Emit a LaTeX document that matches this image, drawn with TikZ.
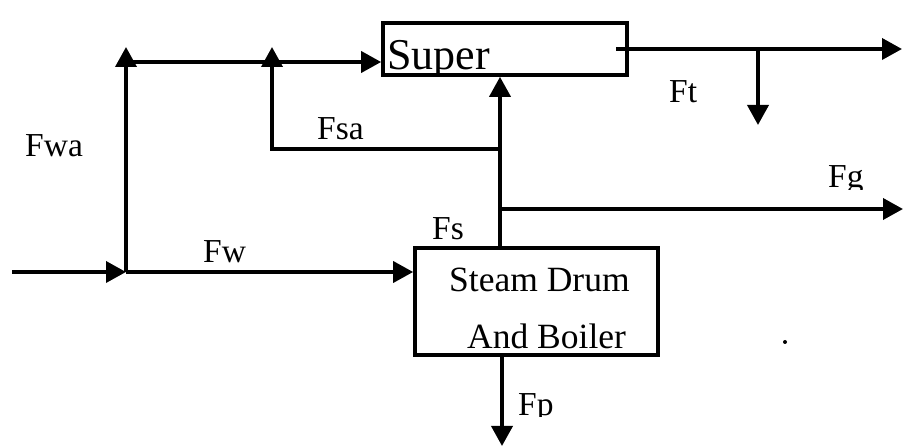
\documentclass[tikz,border=0pt]{standalone}
\usepackage{fontspec}
\setmainfont{Liberation Serif}
\usetikzlibrary{arrows.meta}
\begin{document}
\begin{tikzpicture}[x=1pt,y=-1pt,
 flow/.style={line width=3.7pt, -{Triangle[length=20pt,width=21pt]}},
 unit/.style={draw, line width=3.7pt, inner sep=0pt},
 lbl/.style={anchor=base west, inner sep=0pt, font=\fontsize{33.5}{38}\selectfont},
 boxtxt/.style={anchor=base west, inner sep=0pt, font=\fontsize{35.5}{40}\selectfont},
 bigtxt/.style={anchor=base west, inner sep=0pt, font=\fontsize{44}{48}\selectfont}]
\useasboundingbox (0,0) rectangle (903,446);
% units
\node[unit, minimum width=244pt, minimum height=52pt] (super) at (505,49) {};
\node[unit, minimum width=243pt, minimum height=107pt] (drum) at (536.5,301.5) {};
\begin{scope}
  \clip (super.south west) rectangle (super.north east);
  \node[bigtxt] (supertxt) at (387,70) {Super};
\end{scope}
\node[boxtxt] (drumtxt1) at (449,292) {Steam Drum};
\node[boxtxt] (drumtxt2) at (467,349) {And Boiler};
% coordinates
\coordinate (src) at (12,272);
\coordinate (jw) at (126,272);
\coordinate (fwatip) at (126,47);
\coordinate (jwtop) at (126,62);
\coordinate (sacorner) at (272,149);
\coordinate (satip) at (272,47);
\coordinate (jsteam) at (500,149);
\coordinate (jg) at (500,209);
\coordinate (gout) at (903,209);
\coordinate (tstart) at (616,49);
\coordinate (jt) at (758,49);
\coordinate (tout) at (902,49);
\coordinate (tdown) at (758,125);
\coordinate (pout) at (502,446);
% connectors
\draw[flow] (src) -- (jw);
\draw[flow] (jw) -- (jw -| drum.west);
\draw[flow] (jw) -- (fwatip);
\draw[flow] (jwtop) -- (jwtop -| super.west);
\draw[flow] (jsteam) -- (sacorner) -- (satip);
\draw[flow] (drum.north -| jsteam) -- (super.south -| jsteam);
\draw[flow] (jg) -- (gout);
\draw[flow] (tstart) -- (tout);
\draw[flow] (jt) -- (tdown);
\draw[flow] (drum.south -| pout) -- (pout);
% labels
\node[lbl] (lfwa) at (25,157) {Fwa};
\node[lbl] (lfsa) at (317,140) {Fsa};
\node[lbl] (lfw) at (203,263) {Fw};
\node[lbl] (lfs) at (432,240) {Fs};
\node[lbl] (lft) at (669,103) {Ft};
\begin{scope}
  \clip (820,150) rectangle (880,190);
  \node[lbl] (lfg) at (828,188) {Fg};
\end{scope}
\begin{scope}
  \clip (510,380) rectangle (570,417);
  \node[lbl] (lfp) at (518,416) {Fp};
\end{scope}
\fill (785,342) circle (2pt);
\end{tikzpicture}
\end{document}
